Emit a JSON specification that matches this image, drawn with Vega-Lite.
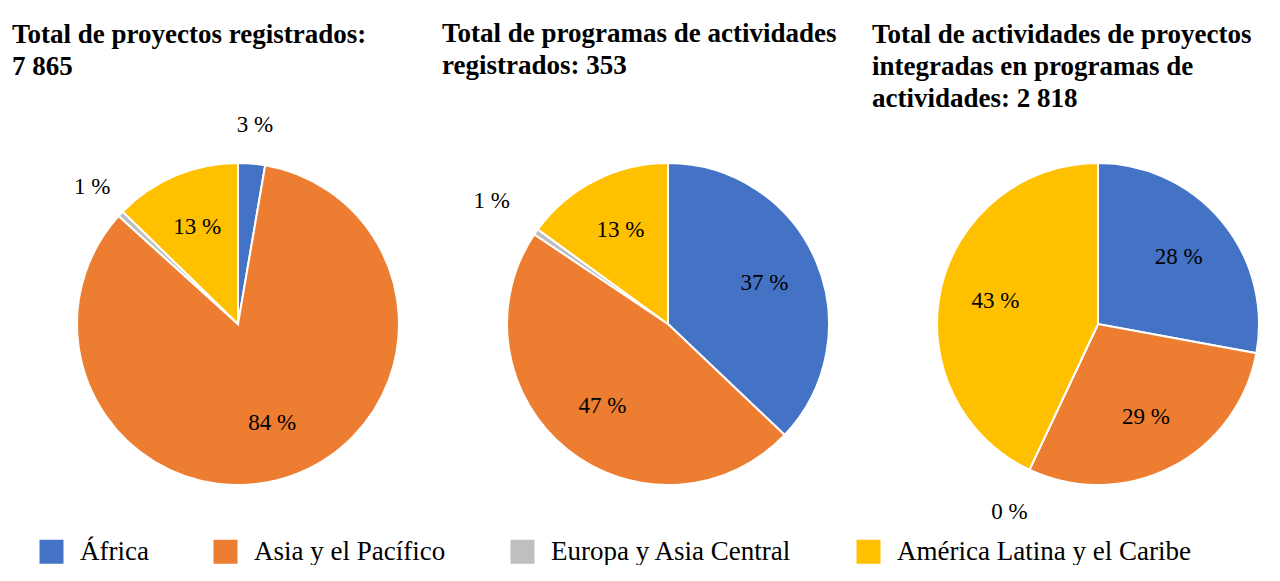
{
  "$schema": "https://vega.github.io/schema/vega-lite/v6.json",
  "background": "white",
  "padding": {"left": 12, "top": 20, "right": 0, "bottom": 0},
  "data": {
    "values": [
      {"grafico": "A", "region": "África", "orden": 1, "pct": 2.7, "etiqueta": "3 %"},
      {"grafico": "A", "region": "Asia y el Pacífico", "orden": 2, "pct": 84.0, "etiqueta": "84 %"},
      {"grafico": "A", "region": "Europa y Asia Central", "orden": 3, "pct": 0.6, "etiqueta": "1 %"},
      {"grafico": "A", "region": "América Latina y el Caribe", "orden": 4, "pct": 12.7, "etiqueta": "13 %"},
      {"grafico": "B", "region": "África", "orden": 1, "pct": 37.1, "etiqueta": "37 %"},
      {"grafico": "B", "region": "Asia y el Pacífico", "orden": 2, "pct": 47.3, "etiqueta": "47 %"},
      {"grafico": "B", "region": "Europa y Asia Central", "orden": 3, "pct": 0.6, "etiqueta": "1 %"},
      {"grafico": "B", "region": "América Latina y el Caribe", "orden": 4, "pct": 15.0, "etiqueta": "13 %"},
      {"grafico": "C", "region": "África", "orden": 1, "pct": 27.9, "etiqueta": "28 %"},
      {"grafico": "C", "region": "Asia y el Pacífico", "orden": 2, "pct": 29.1, "etiqueta": "29 %"},
      {"grafico": "C", "region": "Europa y Asia Central", "orden": 3, "pct": 0.0, "etiqueta": "0 %"},
      {"grafico": "C", "region": "América Latina y el Caribe", "orden": 4, "pct": 43.0, "etiqueta": "43 %"}
    ]
  },
  "bounds": "flush",
  "spacing": 18,
  "hconcat": [
    {
      "width": 412,
      "height": 340,
      "title": {"text": ["Total de proyectos registrados:", "7 865"], "offset": 33},
      "transform": [{"filter": "datum.grafico === 'A'"}],
      "encoding": {
        "theta": {"field": "pct", "type": "quantitative", "stack": true},
        "order": {"field": "orden", "type": "quantitative"}
      },
      "layer": [
        {"mark": {"type": "arc", "outerRadius": 161, "stroke": "white", "strokeWidth": 2},
         "encoding": {"color": {"field": "region", "type": "nominal", "scale": {"domain": ["África", "Asia y el Pacífico", "Europa y Asia Central", "América Latina y el Caribe"], "range": ["#4472C4", "#ED7D31", "#BFBFBF", "#FFC000"]}}}},
        {"mark": {"type": "text", "radius": 105}, "encoding": {"text": {"field": "etiqueta"}, "opacity": {"condition": {"test": "datum.pct >= 5", "value": 1}, "value": 0}}},
        {"mark": {"type": "text", "radius": 200}, "encoding": {"text": {"field": "etiqueta"}, "opacity": {"condition": {"test": "datum.pct < 5", "value": 1}, "value": 0}}}
      ]
    },
    {
      "width": 412,
      "height": 340,
      "title": {"text": ["Total de programas de actividades", "registrados: 353"], "offset": 41},
      "transform": [{"filter": "datum.grafico === 'B'"}],
      "encoding": {
        "theta": {"field": "pct", "type": "quantitative", "stack": true},
        "order": {"field": "orden", "type": "quantitative"}
      },
      "layer": [
        {"mark": {"type": "arc", "outerRadius": 161, "stroke": "white", "strokeWidth": 2},
         "encoding": {"color": {"field": "region", "type": "nominal", "scale": {"domain": ["África", "Asia y el Pacífico", "Europa y Asia Central", "América Latina y el Caribe"], "range": ["#4472C4", "#ED7D31", "#BFBFBF", "#FFC000"]}}}},
        {"mark": {"type": "text", "radius": 105}, "encoding": {"text": {"field": "etiqueta"}, "opacity": {"condition": {"test": "datum.pct >= 5", "value": 1}, "value": 0}}},
        {"mark": {"type": "text", "radius": 215}, "encoding": {"text": {"field": "etiqueta"}, "opacity": {"condition": {"test": "datum.pct < 5", "value": 1}, "value": 0}}}
      ]
    },
    {
      "width": 412,
      "height": 340,
      "title": {"text": ["Total de actividades de proyectos", "integradas en programas de", "actividades: 2 818"], "offset": 41},
      "transform": [{"filter": "datum.grafico === 'C'"}],
      "encoding": {
        "theta": {"field": "pct", "type": "quantitative", "stack": true},
        "order": {"field": "orden", "type": "quantitative"}
      },
      "layer": [
        {"mark": {"type": "arc", "outerRadius": 161, "stroke": "white", "strokeWidth": 2},
         "encoding": {"color": {"field": "region", "type": "nominal", "scale": {"domain": ["África", "Asia y el Pacífico", "Europa y Asia Central", "América Latina y el Caribe"], "range": ["#4472C4", "#ED7D31", "#BFBFBF", "#FFC000"]}}}},
        {"mark": {"type": "text", "radius": 105}, "encoding": {"text": {"field": "etiqueta"}, "opacity": {"condition": {"test": "datum.pct >= 5", "value": 1}, "value": 0}}},
        {"mark": {"type": "text", "radius": 208}, "encoding": {"text": {"field": "etiqueta"}, "opacity": {"condition": {"test": "datum.pct < 5", "value": 1}, "value": 0}}}
      ]
    }
  ],
  "resolve": {"scale": {"color": "shared"}},
  "config": {
    "view": {"stroke": null},
    "font": "Liberation Serif",
    "title": {"font": "Liberation Serif", "fontSize": 27, "fontWeight": "bold", "color": "black", "anchor": "start", "frame": "group", "lineHeight": 32, "dx": -20},
    "text": {"font": "Liberation Serif", "fontSize": 23, "color": "black"},
    "legend": {
      "orient": "none",
      "legendX": 6,
      "legendY": 384,
      "direction": "horizontal",
      "columns": 4,
      "title": null,
      "symbolType": "square",
      "symbolSize": 576,
      "symbolStrokeWidth": 0,
      "symbolOpacity": 1,
      "labelFont": "Liberation Serif",
      "labelFontSize": 27,
      "labelColor": "black",
      "labelOffset": 15,
      "labelLimit": 400,
      "columnPadding": 63
    }
  }
}
